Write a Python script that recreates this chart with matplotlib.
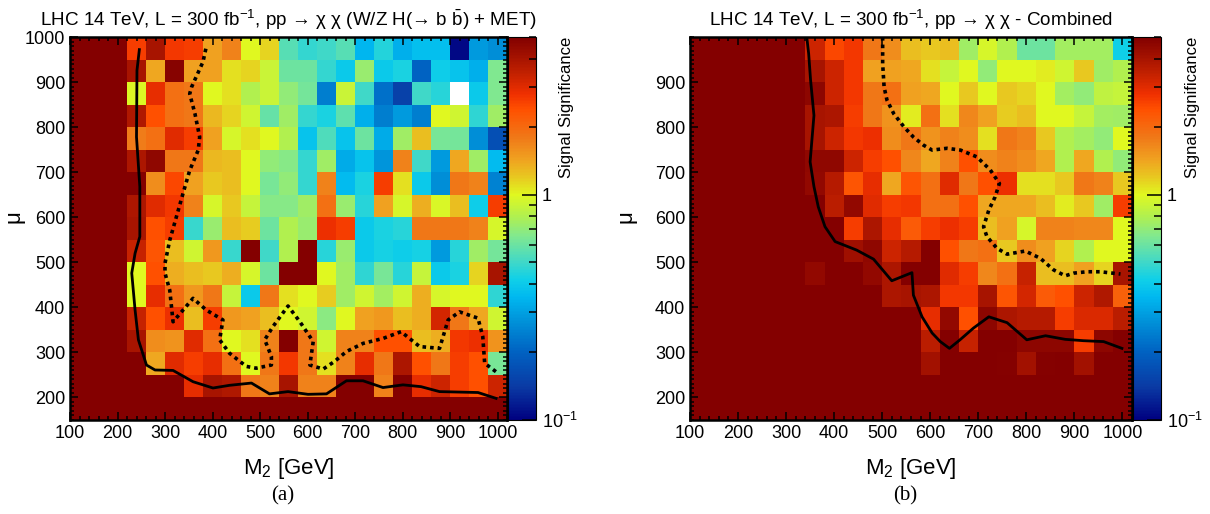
import numpy as np
import matplotlib
matplotlib.use('Agg')
import matplotlib.pyplot as plt
from matplotlib.colors import LinearSegmentedColormap, LogNorm
from matplotlib.ticker import MultipleLocator, FixedLocator, NullFormatter

plt.rcParams['font.family'] = ['Liberation Sans', 'DejaVu Sans']
plt.rcParams['mathtext.fontset'] = 'custom'
plt.rcParams['mathtext.rm'] = 'Liberation Sans'
plt.rcParams['mathtext.it'] = 'Liberation Sans:italic'

# bin edges (GeV)
m2_edges = [100, 140, 180, 220, 260, 300, 340, 380, 420, 460, 500, 540, 580,
            620, 660, 700, 740, 780, 820, 860, 900, 940, 980, 1020]
mu_edges = [150, 200, 250, 300, 350, 400, 450, 500, 550, 600, 650, 700, 750,
            800, 850, 900, 950, 1000]

S = 6.0  # saturated (above palette max)

# panel (a): rows from mu=975 (top) down to mu=175, columns M2 = 120 ... 1000
sig_a = [
    [S, S, S, 2.6, 4.0, 2.7, 2.6, 1.45, 1.7, 1.0, 1.15, 0.55, 0.48, 0.5, 0.55, 0.35, 0.45, 0.33, 0.37, 0.37, 0.105, 0.29, 0.27],
    [S, S, S, 4.0, 1.4, 4.8, 1.45, 1.45, 1.1, 1.15, 0.9, 0.6, 0.6, 0.48, 0.4, 0.72, 0.4, 0.44, 0.2, 0.41, 0.38, 0.33, 0.65],
    [S, S, S, 0.98, 2.9, 1.9, 1.8, 1.0, 1.1, 0.8, 0.9, 0.7, 0.62, 0.24, 0.9, 0.5, 0.22, 0.15, 0.5, 0.46, 0.05, 0.4, 0.65],
    [S, S, S, 3.8, 2.4, 1.9, 1.8, 1.3, 1.15, 0.92, 0.58, 0.75, 0.48, 0.44, 0.57, 0.33, 0.24, 0.29, 0.24, 1.0, 0.92, 0.47, 0.75],
    [S, S, S, 1.75, 1.9, 3.0, 2.6, 1.45, 0.95, 1.1, 1.0, 0.8, 0.38, 0.53, 0.38, 0.6, 0.32, 0.75, 1.25, 0.63, 0.62, 0.27, 0.17],
    [S, S, S, 3.9, 4.6, 1.8, 1.8, 1.3, 1.25, 1.0, 0.7, 0.67, 0.48, 0.75, 0.32, 0.38, 0.28, 1.7, 0.5, 0.29, 1.4, 0.75, 0.36],
    [S, S, S, S, 1.6, 2.5, 1.45, 1.2, 1.25, 1.0, 0.63, 0.7, 0.48, 1.7, 0.36, 0.44, 2.6, 1.1, 0.4, 0.27, 1.8, 1.7, 0.25],
    [S, S, S, 3.9, 3.0, 2.7, 1.7, 0.95, 1.2, 0.88, 0.67, 0.67, 0.75, 1.9, 0.72, 0.46, 1.45, 0.95, 1.35, 0.96, 1.25, 0.41, 2.6],
    [S, S, S, 4.0, 2.4, 2.6, 0.49, 0.72, 1.25, 1.18, 0.6, 0.8, 0.72, 2.8, 2.6, 0.4, 0.44, 0.46, 1.8, 1.8, 1.8, 1.7, 0.95],
    [S, S, S, 3.4, 2.3, 1.25, 0.92, 1.5, 0.49, S, 0.5, 0.8, S, 0.46, 0.72, 0.4, 0.43, 0.41, 0.43, 0.29, 0.46, 0.75, 0.62],
    [S, S, S, 1.0, 2.4, 1.35, 1.25, 1.2, 1.35, 0.95, 0.6, S, S, 1.0, 0.75, 0.47, 0.63, 0.46, 0.88, 0.4, 0.44, 1.15, 4.0],
    [S, S, S, 1.0, 2.9, 1.9, 1.5, 1.8, 0.88, 0.4, 1.8, 1.1, 1.0, 1.18, 0.75, 0.92, 0.76, 0.92, 1.35, 0.95, 1.0, 1.0, 0.47],
    [S, S, S, 3.4, 2.4, 2.8, 1.25, 2.6, 1.5, 1.45, 1.25, 1.0, 0.92, 0.68, 1.0, 1.45, 1.5, 1.25, 1.35, 3.2, 1.8, 1.4, 0.92],
    [S, S, S, 4.0, 1.6, 1.55, 3.0, 1.9, 1.0, 1.1, 1.7, S, 1.8, 0.92, 1.7, 1.7, 2.4, 2.4, 1.25, 1.35, 2.7, 2.8, 1.55],
    [S, S, S, S, 1.4, 3.0, 2.6, 2.9, 1.9, 1.0, 1.8, 2.7, 1.8, 1.1, 1.7, 2.9, 1.8, 3.9, 2.4, 1.8, 2.6, 2.4, 0.63],
    [S, S, S, S, S, S, 2.9, 4.0, 3.8, 1.8, 1.7, 4.0, 1.7, 1.7, S, S, 1.7, S, 2.9, 3.3, 2.6, 2.4, 3.3],
    [S, S, S, S, S, S, S, S, S, S, S, S, S, S, S, S, S, S, S, S, S, S, S],
]

# panel (b): same layout
sig_b = [
    [S, S, S, S, S, S, 3.3, 2.5, 2.7, 1.8, 1.6, 1.25, 1.2, 1.25, 0.75, 0.95, 0.8, 0.6, 0.6, 0.76, 0.76, 0.76, 0.42],
    [S, S, S, S, S, S, 4.0, 3.3, 2.7, 1.45, 1.45, 1.4, 1.1, 0.88, 1.0, 0.7, 1.0, 1.0, 1.05, 0.92, 1.2, 0.75, 0.8],
    [S, S, S, S, S, S, 4.7, 3.3, 2.7, 1.8, 1.9, 1.45, 1.4, 1.0, 1.2, 1.0, 1.2, 1.15, 1.0, 0.76, 0.7, 0.86, 0.88],
    [S, S, S, S, S, S, 4.0, 3.9, 2.6, 1.8, 1.55, 1.05, 1.9, 1.1, 1.65, 1.45, 1.18, 1.25, 1.0, 1.0, 0.88, 0.76, 0.75],
    [S, S, S, S, S, S, 4.0, 3.3, 2.7, 2.8, 1.6, 1.8, 1.55, 1.7, 1.6, 1.1, 1.8, 1.7, 1.2, 0.8, 0.76, 0.7, 1.0],
    [S, S, S, S, S, S, 4.6, 4.6, 3.3, 2.6, 2.4, 1.65, 1.4, 1.7, 2.4, 1.6, 1.7, 1.6, 1.4, 0.8, 1.4, 0.8, 0.7],
    [S, S, S, S, S, S, 4.5, 3.7, 2.3, 2.9, 1.4, 2.3, 1.9, 3.0, 1.8, 2.4, 2.8, 1.1, 1.1, 1.2, 1.8, 1.7, 1.2],
    [S, S, S, S, S, S, S, 3.6, 4.5, 3.0, 2.6, 2.7, 1.9, 1.9, 2.4, 1.4, 1.4, 1.4, 1.25, 1.05, 1.2, 0.75, 2.6],
    [S, S, S, S, S, S, S, S, 2.6, 3.9, 2.9, 2.2, 2.6, 2.8, 2.6, 1.25, 1.45, 0.95, 1.7, 1.7, 1.65, 1.65, 1.0],
    [S, S, S, S, S, S, S, S, 4.2, 4.6, 3.3, 3.7, S, 2.4, 1.8, 1.9, 1.2, 1.6, 1.45, 1.15, 0.8, 1.0, 1.0],
    [S, S, S, S, S, S, 4.5, S, S, 4.5, 3.9, S, S, 3.0, 2.6, 1.65, 1.9, 3.4, 1.25, 1.25, 1.45, 1.15, 4.0],
    [S, S, S, S, S, S, S, S, S, S, 3.9, 4.0, 3.9, 2.7, 2.7, 4.0, 2.3, 3.2, 2.2, 2.4, 3.3, 3.8, 2.1],
    [S, S, S, S, S, S, S, S, S, S, S, S, 2.9, 4.5, 2.4, 4.7, 3.9, 3.7, 3.7, 2.6, 3.1, 3.1, 3.6],
    [S, S, S, S, S, S, S, S, S, S, S, S, 3.6, S, 3.4, S, S, 4.7, 4.7, 4.7, 2.6, 4.7, S],
    [S, S, S, S, S, S, S, S, S, S, S, S, 4.1, S, S, S, 4.9, 4.1, 4.9, S, 4.1, S, S],
    [S, S, S, S, S, S, S, S, S, S, S, S, S, S, S, S, S, S, S, S, S, S, S],
    [S, S, S, S, S, S, S, S, S, S, S, S, S, S, S, S, S, S, S, S, S, S, S],
]

# contours (M2, mu)
solid_a_m2 = [246, 241, 240, 247, 247, 237, 230, 237, 244, 261, 279, 317, 359, 401, 436, 482,
              520, 559, 601, 640, 682, 717, 759, 801, 839, 878, 959, 997]
solid_a_mu = [972, 926, 778, 668, 557, 520, 476, 394, 328, 272, 261, 260, 235, 221, 227, 232,
              208, 213, 207, 208, 237, 237, 222, 228, 224, 213, 211, 198]
dot_a_m2 = [386, 380, 356, 352, 363, 373, 370, 352, 338, 324, 310, 300, 300, 310, 317, 338,
            359, 387, 422, 415, 436, 471, 492, 524, 524, 510, 527, 559, 584, 612, 605, 633,
            657, 682, 717, 759, 797, 836, 878, 896, 920, 959, 969, 973, 997]
dot_a_mu = [974, 945, 889, 874, 830, 778, 749, 704, 653, 601, 549, 498, 476, 438, 368, 394,
            420, 394, 372, 328, 298, 269, 265, 272, 291, 328, 357, 403, 368, 324, 272, 263,
            280, 302, 320, 331, 346, 313, 309, 372, 390, 376, 335, 276, 257]
solid_b_m2 = [343, 347, 351, 358, 350, 358, 367, 381, 402, 447, 482, 520, 562, 565, 583, 604,
              621, 640, 662, 690, 722, 760, 801, 840, 881, 919, 961, 999]
solid_b_mu = [1000, 963, 904, 826, 723, 668, 623, 579, 546, 527, 507, 459, 477, 427, 379, 343,
              324, 309, 328, 354, 379, 366, 328, 337, 329, 326, 324, 309]
dot_b_m2 = [501, 501, 504, 510, 524, 545, 565, 586, 604, 635, 663, 697, 725, 744, 735, 722,
            711, 718, 739, 760, 798, 829, 857, 881, 899, 926, 954, 996]
dot_b_mu = [1000, 941, 889, 860, 830, 801, 778, 760, 749, 753, 749, 734, 705, 675, 645, 616,
            579, 557, 531, 518, 525, 509, 483, 470, 476, 479, 479, 474]

# palette (ROOT-like rainbow), anchored at significance values
pal_values = [0.1, 0.14, 0.2, 0.27, 0.35, 0.42, 0.5, 0.65, 0.8, 1.0, 1.2, 1.45, 1.8,
              2.4, 2.8, 3.5, 4.2, 5.0]
pal_colors = ['#000080', '#0a3aa4', '#0062c2', '#0090d8', '#00b8f0', '#10d0e8', '#40d8c8',
              '#80e890', '#b0f050', '#e0f820', '#e8c820', '#f0a020', '#f07818',
              '#ff5000', '#f03000', '#c02000', '#a01000', '#820000']
vmin, vmax = 0.1, 5.0
pos = [(np.log10(v) - np.log10(vmin)) / (np.log10(vmax) - np.log10(vmin)) for v in pal_values]
cmap = LinearSegmentedColormap.from_list('sig', list(zip(pos, pal_colors)))
cmap.set_over('#840000')
cmap.set_under('white')
norm = LogNorm(vmin=vmin, vmax=vmax)

titles = ['LHC 14 TeV, L = 300 fb$^{-1}$, pp \u2192 \u03c7 \u03c7 (W/Z H(\u2192 b $\\bar{\\mathrm{b}}$) + MET)',
          'LHC 14 TeV, L = 300 fb$^{-1}$, pp \u2192 \u03c7 \u03c7 - Combined']

W, H = 1210, 514
fig = plt.figure(figsize=(W / 100, H / 100), dpi=100)

panels = [
    dict(left=70, right=507, cb=(508, 536), data=sig_a, solid=(solid_a_m2, solid_a_mu),
         dot=(dot_a_m2, dot_a_mu), yt=[200, 300, 400, 500, 600, 700, 800, 900, 1000],
         tag='(a)', ylab=45),
    dict(left=690, right=1132, cb=(1133, 1161), data=sig_b, solid=(solid_b_m2, solid_b_mu),
         dot=(dot_b_m2, dot_b_mu), yt=[200, 300, 400, 500, 600, 700, 800, 900],
         tag='(b)', ylab=53),
]
top, bottom = 37, 420

for p, title in zip(panels, titles):
    ax = fig.add_axes([p['left'] / W, 1 - bottom / H, (p['right'] - p['left']) / W, (bottom - top) / H])
    z = np.array(p['data'])[::-1]
    mesh = ax.pcolormesh(m2_edges, mu_edges, z, cmap=cmap, norm=norm)
    ax.plot(p['solid'][0], p['solid'][1], color='k', lw=2.0)
    ax.plot(p['dot'][0], p['dot'][1], color='k', lw=2.6, linestyle=(0, (1.0, 1.1)))
    ax.set_xlim(100, 1020)
    ax.set_ylim(150, 1000)
    ax.set_xticks([100, 200, 300, 400, 500, 600, 700, 800, 900, 1000])
    ax.set_yticks(p['yt'])
    ax.xaxis.set_minor_locator(MultipleLocator(20))
    ax.yaxis.set_minor_locator(MultipleLocator(10))
    ax.tick_params(which='both', direction='in', top=True, right=True, labelsize=13, width=1.1)
    ax.tick_params(which='major', length=6)
    ax.tick_params(which='minor', length=3)
    for sp in ax.spines.values():
        sp.set_linewidth(1.8)
    ax.set_xlabel('M$_{2}$ [GeV]', fontsize=16, labelpad=10)
    ax.set_ylabel('\u03bc', fontsize=16)
    ax.yaxis.set_label_coords(-p['ylab'] / (p['right'] - p['left']), 0.53)
    ax.set_title(title, fontsize=13.6, pad=8)
    cx = (p['left'] + p['right']) / 2 / W
    fig.text(cx - 0.005, 1 - 496 / H, p['tag'], family='Liberation Serif', fontsize=15,
             ha='center', va='center')

    cax = fig.add_axes([p['cb'][0] / W, 1 - bottom / H, (p['cb'][1] - p['cb'][0]) / W, (bottom - top) / H])
    cb = fig.colorbar(mesh, cax=cax)
    cb.set_ticks([0.1, 1])
    cb.set_ticklabels(['10$^{-1}$', '1'])
    cax.yaxis.set_minor_locator(FixedLocator([0.2, 0.3, 0.4, 0.5, 0.6, 0.7, 0.8, 0.9, 2, 3, 4, 5]))
    cax.yaxis.set_minor_formatter(NullFormatter())
    cax.tick_params(which='both', direction='in', right=True, left=False, labelsize=13, width=1.1, pad=4)
    cax.tick_params(which='major', length=10)
    cax.tick_params(which='minor', length=5)
    cb.outline.set_linewidth(0.8)
    fig.text((p['cb'][1] + 31) / W, 1 - top / H, 'Signal Significance', rotation=90,
             ha='center', va='top', fontsize=12)

fig.savefig('out.png', dpi=100)
